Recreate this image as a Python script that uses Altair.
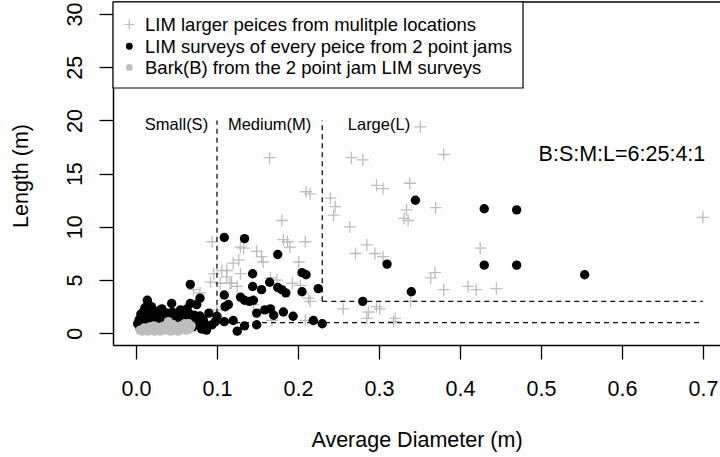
import altair as alt
import pandas as pd

# ---------------- data ----------------
# LIM larger pieces from multiple locations (grey crosses)
lim_diam = [0.165, 0.210, 0.215, 0.240, 0.246, 0.244, 0.266, 0.280, 0.297, 0.305,
            0.338, 0.351, 0.380, 0.334, 0.331, 0.336, 0.370, 0.264, 0.180, 0.182,
            0.187, 0.190, 0.285, 0.271, 0.295, 0.305, 0.425, 0.369, 0.364, 0.380,
            0.410, 0.420, 0.445, 0.339, 0.700, 0.297, 0.301, 0.287, 0.318, 0.285,
            0.256, 0.094, 0.129, 0.133, 0.149, 0.155, 0.157, 0.127, 0.112, 0.129,
            0.116, 0.201, 0.193, 0.203, 0.213, 0.215, 0.166, 0.174, 0.209, 0.209,
            0.168, 0.096, 0.106, 0.112, 0.092, 0.104, 0.118, 0.125, 0.071, 0.079,
            0.120, 0.100, 0.320, 0.145]
lim_len = [16.5, 13.3, 13.1, 12.7, 11.9, 11.1, 16.5, 16.3, 13.9, 13.6,
           14.1, 19.4, 16.8, 11.6, 10.8, 10.6, 11.8, 10.0, 10.6, 8.8,
           8.6, 8.1, 8.3, 7.5, 7.5, 7.2, 8.0, 5.7, 5.2, 4.1,
           4.4, 4.1, 4.2, 3.0, 10.9, 2.5, 2.3, 2.0, 1.1, 1.4,
           2.3, 8.6, 8.1, 8.0, 7.7, 7.2, 6.7, 6.9, 5.9, 5.6,
           4.7, 6.7, 4.7, 4.5, 3.3, 3.0, 5.2, 5.0, 8.6, 1.2,
           1.2, 5.6, 5.9, 5.3, 4.8, 4.7, 4.7, 4.4, 4.1, 3.8,
           6.6, 2.2, 1.4, 2.7]

# LIM surveys of every piece from 2 point jams (black dots)
jam_diam = [0.109, 0.134, 0.175, 0.144, 0.205, 0.210, 0.067, 0.144, 0.155, 0.165,
            0.175, 0.180, 0.185, 0.205, 0.225, 0.109, 0.129, 0.134, 0.140, 0.145,
            0.110, 0.114, 0.149, 0.159, 0.166, 0.170, 0.182, 0.194, 0.219, 0.230,
            0.149, 0.125, 0.134, 0.100, 0.109, 0.120, 0.079, 0.088, 0.094, 0.098,
            0.079, 0.075, 0.280, 0.310, 0.345, 0.430, 0.470, 0.430, 0.470, 0.554,
            0.340,
            0.002, 0.005, 0.008, 0.010, 0.012, 0.013, 0.015, 0.014, 0.016, 0.018,
            0.020, 0.022, 0.024, 0.025, 0.027, 0.028, 0.030, 0.032, 0.033, 0.035,
            0.036, 0.038, 0.040, 0.042, 0.044, 0.045, 0.047, 0.048, 0.050, 0.052,
            0.055, 0.057, 0.059, 0.060, 0.062, 0.065, 0.067, 0.069, 0.070, 0.072,
            0.076, 0.079, 0.081, 0.083, 0.085, 0.090, 0.004, 0.009, 0.019, 0.031,
            0.006, 0.011, 0.021, 0.026, 0.034, 0.039, 0.053, 0.063, 0.074, 0.087]
jam_len = [9.0, 8.9, 7.4, 5.6, 5.7, 5.5, 4.6, 4.4, 4.1, 4.8,
           4.3, 4.1, 3.8, 3.9, 4.2, 3.6, 3.4, 3.1, 3.0, 3.1,
           2.5, 2.7, 1.9, 2.2, 2.3, 1.7, 2.0, 1.6, 1.2, 0.9,
           0.8, 0.2, 0.7, 1.6, 1.1, 1.2, 1.6, 0.6, 0.8, 1.1,
           3.3, 2.7, 3.0, 6.5, 12.5, 11.7, 11.6, 6.4, 6.4, 5.5,
           3.9,
           0.9, 0.5, 1.0, 0.3, 1.5, 0.8, 2.7, 3.1, 1.9, 1.2,
           0.5, 2.1, 1.4, 0.9, 1.7, 0.4, 2.2, 2.3, 1.1, 1.6,
           0.6, 1.9, 1.3, 0.8, 2.8, 2.0, 1.5, 0.5, 1.1, 1.8,
           2.2, 1.4, 1.6, 0.9, 0.4, 1.9, 2.8, 1.2, 0.6, 1.7,
           1.0, 1.6, 0.4, 1.3, 0.9, 1.9, 1.3, 2.0, 2.5, 0.7,
           1.8, 2.4, 1.6, 1.2, 2.0, 1.0, 1.3, 2.3, 1.3, 0.3]

# Bark (B) from the 2 point jam LIM surveys (grey dots)
bark_diam = [0.005, 0.008, 0.012, 0.015, 0.018, 0.020, 0.023, 0.025, 0.028, 0.030,
             0.033, 0.035, 0.037, 0.040, 0.040, 0.043, 0.045, 0.048, 0.050, 0.052,
             0.055, 0.057, 0.060, 0.062, 0.064, 0.066, 0.068,
             0.010, 0.017, 0.022, 0.027, 0.032, 0.038, 0.046, 0.053, 0.058, 0.065]
bark_len = [0.3, 0.2, 0.4, 0.2, 0.5, 0.3, 0.2, 0.6, 0.3, 0.2,
            0.5, 0.7, 0.3, 1.1, 0.4, 0.2, 0.6, 0.3, 0.5, 0.2,
            0.7, 0.4, 0.9, 0.3, 0.6, 0.4, 0.7,
            0.5, 0.6, 0.7, 0.5, 0.6, 0.8, 0.8, 0.6, 0.5, 0.9]

# size-class boundaries (dashed segments)
seg_x = [0.10, 0.23, 0.10, 0.23]
seg_x2 = [0.10, 0.23, 0.70, 0.70]
seg_y = [1, 3, 1, 3]
seg_y2 = [20, 20, 1, 3]

class_names = ["Small(S)", "Medium(M)", "Large(L)"]
class_x = [0.05, 0.165, 0.30]
class_y = [20, 20, 20]

ratio_text = "B:S:M:L=6:25:4:1"

legend_labels = ["LIM larger peices from mulitple locations",
                 "LIM surveys of every peice from 2 point jams",
                 "Bark(B) from the 2 point jam LIM surveys"]

x_ticks = [0.0, 0.1, 0.2, 0.3, 0.4, 0.5, 0.6, 0.7]
y_ticks = [0, 5, 10, 15, 20, 25, 30]

# ---------------- styling ----------------
FONT = "Liberation Sans"
W, H = 607, 343
GREY = "#bebebe"
CROSS = "M-1,0H1M0,-1V1"

xs = alt.Scale(domain=[-0.0284, 0.7211], nice=False, zero=False)
ys = alt.Scale(domain=[-1.1, 31.13], nice=False, zero=False)

x_axis = alt.Axis(values=x_ticks, format=".1f", title="Average Diameter (m)",
                  grid=False, tickSize=14, tickWidth=1.3, tickColor="black",
                  domainColor="black", domainWidth=1.5,
                  labelFont=FONT, labelFontSize=21.5, labelColor="black",
                  labelPadding=36, labelBaseline="alphabetic", labelAlign="center",
                  labelFlush=False, labelOverlap=False, labelBound=False,
                  titleFont=FONT, titleFontSize=21.5, titleFontWeight="normal",
                  titleColor="black", titleY=101, titleBaseline="alphabetic")
y_axis = alt.Axis(values=y_ticks, format="d", title="Length (m)",
                  grid=False, tickSize=14, tickWidth=1.3, tickColor="black",
                  domainColor="black", domainWidth=1.5,
                  labelFont=FONT, labelFontSize=21.5, labelColor="black",
                  labelAngle=270, labelPadding=17.5, labelBaseline="alphabetic",
                  labelAlign="center", labelFlush=False, labelOverlap=False,
                  labelBound=False,
                  titleFont=FONT, titleFontSize=21.5, titleFontWeight="normal",
                  titleColor="black", titleAngle=270, titleAlign="center",
                  titleBaseline="alphabetic", titleX=-85.4, titleY=173.5)

lim = pd.DataFrame({"d": lim_diam, "l": lim_len})
jam = pd.DataFrame({"d": jam_diam, "l": jam_len})
bark = pd.DataFrame({"d": bark_diam, "l": bark_len})
segs = pd.DataFrame({"x": seg_x, "x2": seg_x2, "y": seg_y, "y2": seg_y2})
classes = pd.DataFrame({"x": class_x, "y": class_y, "t": class_names})
one = pd.DataFrame({"k": [0]})

crosses = alt.Chart(lim).mark_point(
    shape=CROSS, filled=False, stroke=GREY, strokeWidth=1.3, size=144, opacity=1
).encode(x=alt.X("d:Q", scale=xs, axis=x_axis), y=alt.Y("l:Q", scale=ys, axis=y_axis))

dots = alt.Chart(jam).mark_circle(color="black", size=88, opacity=1).encode(
    x=alt.X("d:Q", scale=xs), y=alt.Y("l:Q", scale=ys))

bark_dots = alt.Chart(bark).mark_circle(color=GREY, size=88, opacity=1).encode(
    x=alt.X("d:Q", scale=xs), y=alt.Y("l:Q", scale=ys))

dashed = alt.Chart(segs).mark_rule(
    color="#111111", strokeWidth=1.3, strokeDash=[5, 4]
).encode(x=alt.X("x:Q", scale=xs), x2="x2:Q", y=alt.Y("y:Q", scale=ys), y2="y2:Q")

class_text = alt.Chart(classes).mark_text(
    font=FONT, fontSize=16.5, color="black", baseline="alphabetic", align="center", dy=9.2
).encode(x=alt.X("x:Q", scale=xs), y=alt.Y("y:Q", scale=ys), text="t:N")

ratio = alt.Chart(pd.DataFrame({"x": [0.6], "y": [17], "t": [ratio_text]})).mark_text(
    font=FONT, fontSize=21.5, color="black", baseline="alphabetic", align="center", dy=8.8
).encode(x=alt.X("x:Q", scale=xs), y=alt.Y("y:Q", scale=ys), text="t:N")

# top edge of the plot box
top_edge = alt.Chart(one).mark_rule(color="black", strokeWidth=1.5).encode(
    x=alt.value(0), x2=alt.value(W), y=alt.value(0))

# legend box
legend_box = alt.Chart(one).mark_rect(fill="white", stroke="black", strokeWidth=1.2).encode(
    x=alt.value(0), x2=alt.value(410), y=alt.value(0), y2=alt.value(86))

row_y = [22.5, 44.3, 65.5]
leg_cross = alt.Chart(one).mark_point(
    shape=CROSS, filled=False, stroke=GREY, strokeWidth=1.2, size=100, opacity=1
).encode(x=alt.value(16.3), y=alt.value(row_y[0]))
leg_dot = alt.Chart(one).mark_circle(color="black", size=48, opacity=1).encode(
    x=alt.value(16.3), y=alt.value(row_y[1]))
leg_bark = alt.Chart(one).mark_circle(color=GREY, size=48, opacity=1).encode(
    x=alt.value(16.3), y=alt.value(row_y[2]))

leg_texts = [
    alt.Chart(one).mark_text(font=FONT, fontSize=18.5, color="black",
                             align="left", baseline="alphabetic").encode(
        x=alt.value(32), y=alt.value(ry + 6.8), text=alt.value(lbl))
    for lbl, ry in zip(legend_labels, row_y)
]

chart = alt.layer(
    crosses, dashed, dots, bark_dots, class_text, ratio, top_edge,
    legend_box, leg_cross, leg_dot, leg_bark, *leg_texts
).properties(
    width=W, height=H,
    padding={"left": 113, "top": 2, "right": 0, "bottom": 112},
    autosize=alt.AutoSizeParams(type="none"),
    background="white",
).configure_view(stroke=None)

chart.save("out.html", embed_options={"renderer": "svg", "actions": False})
